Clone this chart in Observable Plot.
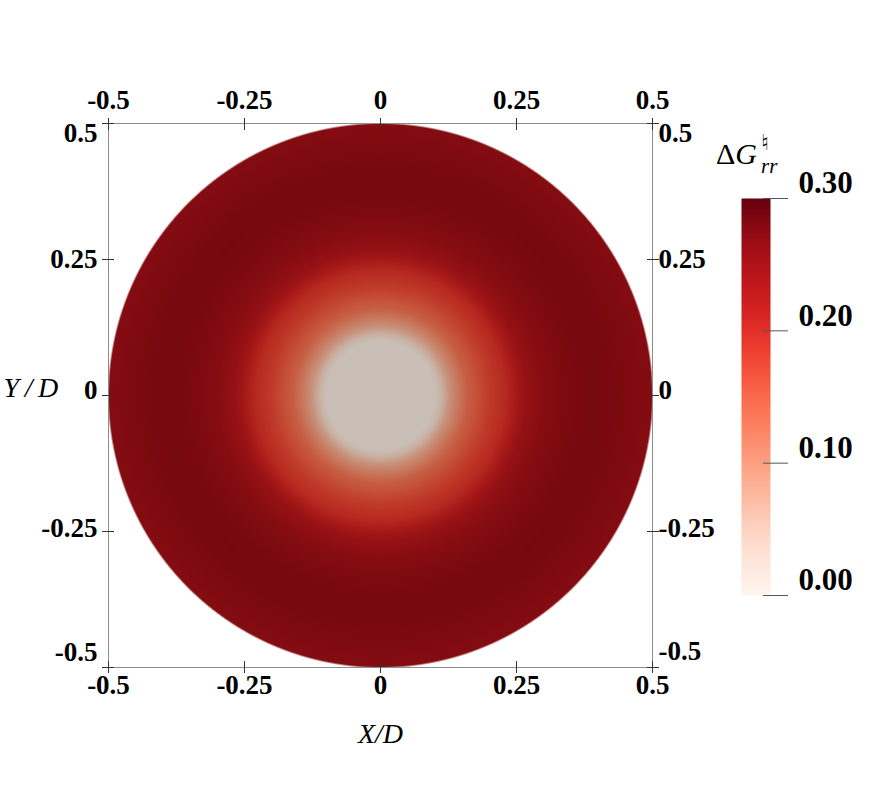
<!DOCTYPE html>
<html><head><meta charset="utf-8">
<script src="https://cdn.jsdelivr.net/npm/d3@7"></script>
<script src="https://cdn.jsdelivr.net/npm/@observablehq/plot@0.6"></script>
<style>
body{margin:0;background:#fff;}
#wrap{position:relative;width:872px;height:794px;overflow:hidden;}
#wrap svg{position:absolute;overflow:visible;}
.t{position:absolute;font-family:'Liberation Serif','Times New Roman',serif;line-height:1;white-space:nowrap;color:#000;}
</style></head><body>
<div id="wrap">
  <div class="t" style="left:716px;top:139px;font-size:30px;">Δ<i>G</i></div>
  <div class="t" style="left:761px;top:132px;font-size:22px;font-family:'DejaVu Sans',serif;">♮</div>
  <div class="t" style="left:761px;top:156px;font-size:21px;font-style:italic;">rr</div>
</div>
<script>
// ---- data ----
const xTicks = [-0.5, -0.25, 0, 0.25, 0.5];
const yTicks = [-0.5, -0.25, 0, 0.25, 0.5];
const xTickLabels = ["-0.5", "-0.25", "0", "0.25", "0.5"];
const yTickLabels = ["-0.5", "-0.25", "0", "0.25", "0.5"];
// radial profile of ΔG_rr (r in units of D)
const radius = [0, 0.10, 0.112, 0.125, 0.14, 0.16, 0.18, 0.20, 0.23, 0.25, 0.27, 0.30, 0.34, 0.39, 0.45, 0.50];
const dGrr   = [0, 0, 0.03, 0.07, 0.10, 0.135, 0.155, 0.175, 0.195, 0.22, 0.24, 0.255, 0.265, 0.27, 0.265, 0.258];
const cbTicks = [0, 0.1, 0.2, 0.3];
const cbLabels = ["0.00", "0.10", "0.20", "0.30"];
const xLabel = "X/D";
const yLabel = "Y\u2009/\u2009D";

// ---- layout ----
const W = 872, H = 794, mL = 108, mR = 220, mT = 123, mB = 127;
const font = "'Liberation Serif','Times New Roman',serif";
const profile = d3.scaleLinear().domain(radius).range(dGrr).clamp(true);
const Rmax = xTicks[xTicks.length - 1];
const pxPerUnit = (W - mL - mR) / (xTicks[xTicks.length - 1] - xTicks[0]);
const shade = t => { const c = d3.rgb(d3.interpolateReds(t)); return d3.rgb(c.r * 0.79, c.g * 0.78, c.b * 0.76).formatHex(); };
const fmt = (ticks, labels) => d => labels[ticks.indexOf(d)];
const pick = (ticks, labels, vals) => ({ticks: vals, tickFormat: fmt(ticks, labels)});
const tickStyle = {stroke: "#333", strokeWidth: 1, tickFormat: () => "", label: null};
const textStyle = {tickSize: 0, fontSize: 27, fontWeight: "bold", label: null, fill: "#000"};

const main = Plot.plot({
  width: W, height: H, marginLeft: mL, marginRight: mR, marginTop: mT, marginBottom: mB,
  style: {fontFamily: font, background: "transparent", overflow: "visible"},
  x: {domain: [xTicks[0], xTicks[xTicks.length - 1]]},
  y: {domain: [yTicks[0], yTicks[yTicks.length - 1]]},
  color: {type: "linear", domain: [cbTicks[0], cbTicks[cbTicks.length - 1]], interpolate: shade, clamp: true},
  marks: [
    Plot.raster({
      x1: xTicks[0], x2: xTicks[xTicks.length - 1], y1: yTicks[0], y2: yTicks[yTicks.length - 1],
      pixelSize: 1,
      fill: (x, y) => profile(Math.hypot(x, y)),
      fillOpacity: (x, y) => Math.max(0, Math.min(1, (Rmax - Math.hypot(x, y)) * pxPerUnit + 0.5))
    }),
    Plot.frame({stroke: "#8c8c8c"}),
    Plot.axisX({anchor: "top", ticks: xTicks, tickSize: 12, dy: 6, ...tickStyle}),
    Plot.axisX({anchor: "bottom", ticks: xTicks, tickSize: 12, dy: -6, ...tickStyle}),
    Plot.axisY({anchor: "left", ticks: yTicks, tickSize: 12, dx: 6, ...tickStyle}),
    Plot.axisY({anchor: "right", ticks: yTicks, tickSize: 12, dx: -6, ...tickStyle}),
    Plot.axisX({anchor: "top", ...pick(xTicks, xTickLabels, xTicks), tickPadding: 15, ...textStyle}),
    Plot.axisX({anchor: "bottom", ...pick(xTicks, xTickLabels, xTicks), tickPadding: 7, ...textStyle}),
    Plot.axisY({anchor: "left", ...pick(yTicks, yTickLabels, [yTicks[4]]), tickPadding: 11, dy: 10, ...textStyle}),
    Plot.axisY({anchor: "left", ...pick(yTicks, yTickLabels, [yTicks[3]]), tickPadding: 11, dy: 0, ...textStyle}),
    Plot.axisY({anchor: "left", ...pick(yTicks, yTickLabels, [yTicks[2]]), tickPadding: 11, dy: -5, ...textStyle}),
    Plot.axisY({anchor: "left", ...pick(yTicks, yTickLabels, [yTicks[1]]), tickPadding: 11, dy: -3, ...textStyle}),
    Plot.axisY({anchor: "left", ...pick(yTicks, yTickLabels, [yTicks[0]]), tickPadding: 11, dy: -15, ...textStyle}),
    Plot.axisY({anchor: "right", ...pick(yTicks, yTickLabels, [yTicks[4]]), tickPadding: 6, dy: 10, ...textStyle}),
    Plot.axisY({anchor: "right", ...pick(yTicks, yTickLabels, [yTicks[3]]), tickPadding: 6, dy: 0, ...textStyle}),
    Plot.axisY({anchor: "right", ...pick(yTicks, yTickLabels, [yTicks[2]]), tickPadding: 6, dy: -5, ...textStyle}),
    Plot.axisY({anchor: "right", ...pick(yTicks, yTickLabels, [yTicks[1]]), tickPadding: 6, dy: -3, ...textStyle}),
    Plot.axisY({anchor: "right", ...pick(yTicks, yTickLabels, [yTicks[0]]), tickPadding: 6, dy: -16, ...textStyle}),
    Plot.text([xLabel], {frameAnchor: "bottom", text: d => d, lineAnchor: "bottom", dy: 75, fontSize: 28, fontStyle: "italic", fill: "#000"}),
    Plot.text([yLabel], {frameAnchor: "left", text: d => d, textAnchor: "start", lineAnchor: "bottom", dx: -105, dy: 1, fontSize: 28, fontStyle: "italic", fill: "#000"})
  ]
});
main.style.left = "0px"; main.style.top = "0px";

const cb = Plot.plot({
  width: 172, height: 480, marginLeft: 41, marginRight: 102, marginTop: 48, marginBottom: 35,
  style: {fontFamily: font, background: "transparent", overflow: "visible"},
  x: {domain: [0, 1], axis: null},
  y: {domain: [cbTicks[0], cbTicks[cbTicks.length - 1]]},
  color: {type: "linear", scheme: "reds", domain: [cbTicks[0], cbTicks[cbTicks.length - 1]]},
  marks: [
    Plot.raster({x1: 0, x2: 1, y1: cbTicks[0], y2: cbTicks[cbTicks.length - 1], pixelSize: 1, fill: (x, y) => y}),
    Plot.axisY({anchor: "right", ticks: cbTicks, tickSize: 25, dx: -8, stroke: "#555", tickFormat: () => "", label: null}),
    Plot.axisY({anchor: "right", ticks: cbTicks, tickFormat: fmt(cbTicks, cbLabels), tickSize: 0, tickPadding: 28, dy: -15, fontSize: 31, fontWeight: "bold", fill: "#000", label: null})
  ]
});
cb.style.left = "700px"; cb.style.top = "150px";

const wrap = document.getElementById("wrap");
wrap.insertBefore(main, wrap.firstChild);
wrap.appendChild(cb);
</script>
</body></html>
